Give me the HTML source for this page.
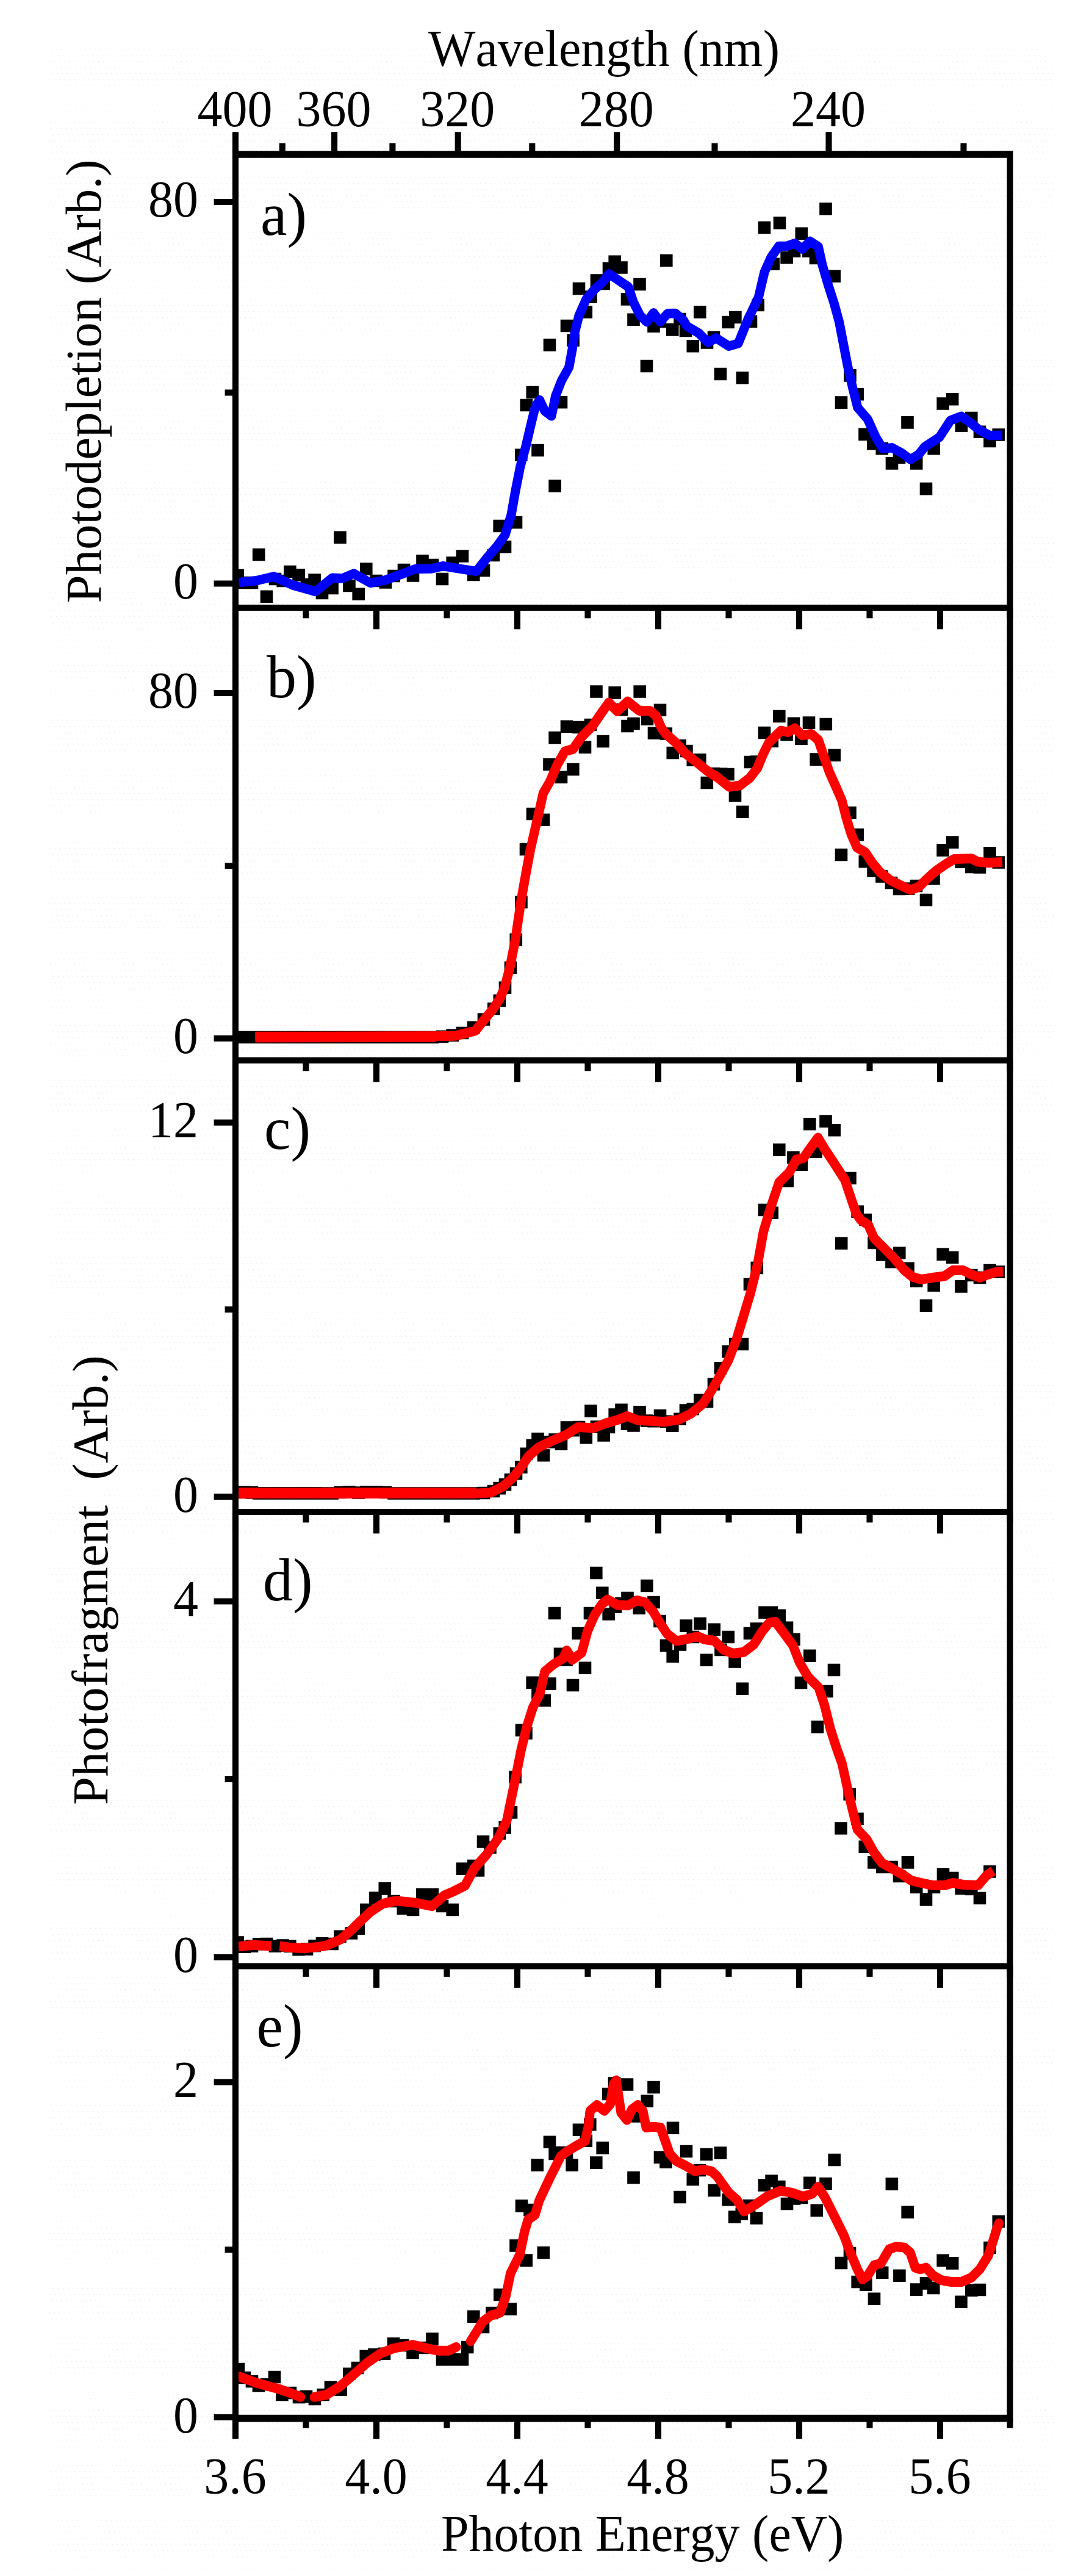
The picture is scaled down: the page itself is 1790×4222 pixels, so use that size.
<!DOCTYPE html>
<html lang="en"><head><meta charset="utf-8"><title>Photodepletion and photofragment spectra</title>
<style>html,body{margin:0;padding:0;background:#fff}svg{display:block}text{font-family:"Liberation Serif","Times New Roman",serif;font-size:82px;fill:#000;font-kerning:none}</style>
</head><body>
<svg width="1790" height="4222" viewBox="0 0 1790 4222">
<defs><pattern id="dots" width="8" height="10" patternUnits="userSpaceOnUse" patternTransform="skewX(14)"><rect x="0" y="0" width="1.2" height="1.2" fill="#e9e9e9"/></pattern>
<clipPath id="clipall"><rect x="382.0" y="253.0" width="1277.6" height="3710.6"/></clipPath>
</defs>
<rect x="0" y="0" width="1790" height="4222" fill="#fff"/>
<rect x="81" y="54" width="1646" height="4164" fill="url(#dots)"/>
<g id="data" clip-path="url(#clipall)">
<g id="panel-a">
<path d="M379.3 932.7h20.6v20.6h-20.6z M390.7 944.7h20.6v20.6h-20.6z M402.7 944.7h20.6v20.6h-20.6z M413.9 898.7h20.6v20.6h-20.6z M426.7 967.4h20.6v20.6h-20.6z M440.7 938.7h20.6v20.6h-20.6z M453.4 941.7h20.6v20.6h-20.6z M465.1 926.7h20.6v20.6h-20.6z M479.3 932.2h20.6v20.6h-20.6z M492.7 947.7h20.6v20.6h-20.6z M505.3 940.2h20.6v20.6h-20.6z M517.7 961.7h20.6v20.6h-20.6z M534.3 953.7h20.6v20.6h-20.6z M547.2 870.5h20.6v20.6h-20.6z M562.2 949.7h20.6v20.6h-20.6z M577.4 963.5h20.6v20.6h-20.6z M590.0 922.2h20.6v20.6h-20.6z M606.4 941.7h20.6v20.6h-20.6z M621.7 944.2h20.6v20.6h-20.6z M635.3 933.7h20.6v20.6h-20.6z M651.7 923.7h20.6v20.6h-20.6z M666.7 933.2h20.6v20.6h-20.6z M682.2 909.0h20.6v20.6h-20.6z M698.7 915.7h20.6v20.6h-20.6z M714.7 938.7h20.6v20.6h-20.6z M731.4 912.2h20.6v20.6h-20.6z M747.7 901.2h20.6v20.6h-20.6z M766.0 931.7h20.6v20.6h-20.6z M782.7 924.7h20.6v20.6h-20.6z M798.7 899.7h20.6v20.6h-20.6z M808.4 851.7h20.6v20.6h-20.6z M817.7 886.0h20.6v20.6h-20.6z M835.7 846.0h20.6v20.6h-20.6z M844.0 735.5h20.6v20.6h-20.6z M852.5 653.7h20.6v20.6h-20.6z M862.5 632.7h20.6v20.6h-20.6z M871.2 727.7h20.6v20.6h-20.6z M890.7 555.1h20.6v20.6h-20.6z M899.3 786.2h20.6v20.6h-20.6z M909.7 649.0h20.6v20.6h-20.6z M918.7 523.7h20.6v20.6h-20.6z M929.3 547.4h20.6v20.6h-20.6z M938.7 462.7h20.6v20.6h-20.6z M950.5 501.2h20.6v20.6h-20.6z M958.2 476.2h20.6v20.6h-20.6z M967.7 449.3h20.6v20.6h-20.6z M979.3 454.7h20.6v20.6h-20.6z M987.7 429.7h20.6v20.6h-20.6z M997.4 418.5h20.6v20.6h-20.6z M1008.2 428.2h20.6v20.6h-20.6z M1017.7 480.1h20.6v20.6h-20.6z M1028.2 513.5h20.6v20.6h-20.6z M1038.2 455.7h20.6v20.6h-20.6z M1049.7 589.7h20.6v20.6h-20.6z M1061.2 524.3h20.6v20.6h-20.6z M1071.7 516.7h20.6v20.6h-20.6z M1082.0 416.7h20.6v20.6h-20.6z M1092.0 530.1h20.6v20.6h-20.6z M1104.3 512.7h20.6v20.6h-20.6z M1113.7 531.7h20.6v20.6h-20.6z M1125.5 557.0h20.6v20.6h-20.6z M1137.0 501.2h20.6v20.6h-20.6z M1148.7 551.2h20.6v20.6h-20.6z M1159.7 542.7h20.6v20.6h-20.6z M1170.7 602.7h20.6v20.6h-20.6z M1183.4 517.7h20.6v20.6h-20.6z M1195.1 509.7h20.6v20.6h-20.6z M1206.7 608.9h20.6v20.6h-20.6z M1220.7 516.7h20.6v20.6h-20.6z M1232.4 489.7h20.6v20.6h-20.6z M1242.7 362.7h20.6v20.6h-20.6z M1257.4 422.4h20.6v20.6h-20.6z M1267.7 355.1h20.6v20.6h-20.6z M1279.3 412.0h20.6v20.6h-20.6z M1291.7 401.2h20.6v20.6h-20.6z M1303.5 372.4h20.6v20.6h-20.6z M1315.1 401.2h20.6v20.6h-20.6z M1326.7 412.7h20.6v20.6h-20.6z M1343.2 332.0h20.6v20.6h-20.6z M1357.4 442.4h20.6v20.6h-20.6z M1368.7 649.3h20.6v20.6h-20.6z M1383.2 605.1h20.6v20.6h-20.6z M1395.4 636.0h20.6v20.6h-20.6z M1407.2 701.7h20.6v20.6h-20.6z M1421.0 717.0h20.6v20.6h-20.6z M1435.5 724.9h20.6v20.6h-20.6z M1451.7 749.1h20.6v20.6h-20.6z M1463.7 739.3h20.6v20.6h-20.6z M1477.2 682.1h20.6v20.6h-20.6z M1491.9 749.1h20.6v20.6h-20.6z M1507.7 790.8h20.6v20.6h-20.6z M1520.4 724.9h20.6v20.6h-20.6z M1535.4 651.2h20.6v20.6h-20.6z M1550.9 644.0h20.6v20.6h-20.6z M1565.7 687.4h20.6v20.6h-20.6z M1582.0 674.7h20.6v20.6h-20.6z M1595.7 697.5h20.6v20.6h-20.6z M1612.2 712.7h20.6v20.6h-20.6z M1626.5 702.2h20.6v20.6h-20.6z" fill="#000"/>
<g transform="scale(0.98,1)">
<polyline points="399.6,954.6 427.2,951.9 458.2,945.0 489.8,959.0 527.4,969.5 555.7,947.3 572.4,948.0 591.8,940.0 619.4,955.4 643.6,951.0 671.2,941.3 694.0,932.6 721.5,932.1 740.8,927.7 764.3,931.5 796.9,936.3 814.7,914.1 831.5,895.0 844.9,876.8 855.1,843.8 862.0,805.4 870.4,764.0 878.9,734.0 888.8,692.7 895.7,665.3 902.7,655.7 911.2,673.5 922.4,681.8 929.3,648.8 939.2,624.0 951.7,602.0 957.3,572.0 961.5,544.4 968.5,517.0 980.4,490.7 994.0,474.7 1006.6,463.8 1018.8,448.9 1034.2,459.2 1051.0,470.2 1059.4,495.0 1070.6,517.0 1082.1,527.8 1093.1,512.8 1104.1,527.4 1117.0,513.7 1129.6,513.5 1143.3,525.0 1149.0,534.6 1168.8,546.0 1184.5,561.5 1197.4,553.8 1219.0,567.3 1234.8,562.9 1250.8,524.0 1268.7,487.4 1278.6,446.1 1289.6,421.9 1302.7,403.5 1315.4,403.5 1329.4,398.7 1342.2,408.2 1354.7,395.4 1368.7,404.2 1375.5,434.4 1385.4,467.4 1395.3,497.6 1403.7,527.8 1410.7,563.5 1417.7,599.2 1426.1,635.0 1434.5,668.0 1451.3,687.0 1465.3,717.4 1476.5,735.2 1491.8,733.8 1507.4,742.0 1522.9,753.0 1536.7,744.8 1546.6,732.5 1571.4,716.6 1589.8,689.0 1608.0,682.3 1622.0,691.9 1637.4,704.2 1655.6,713.8 1676.5,713.3" fill="none" stroke="#0000ff" stroke-width="15.4" stroke-linejoin="round" stroke-linecap="butt"/>
</g>
</g>
<g id="panel-b">
<path d="M379.3 1689.7h20.6v20.6h-20.6z M390.7 1689.7h20.6v20.6h-20.6z M402.7 1689.7h20.6v20.6h-20.6z M413.9 1689.7h20.6v20.6h-20.6z M426.7 1689.7h20.6v20.6h-20.6z M440.7 1689.7h20.6v20.6h-20.6z M453.4 1689.7h20.6v20.6h-20.6z M465.1 1689.7h20.6v20.6h-20.6z M479.3 1689.7h20.6v20.6h-20.6z M492.7 1689.7h20.6v20.6h-20.6z M505.3 1689.7h20.6v20.6h-20.6z M517.7 1689.7h20.6v20.6h-20.6z M534.3 1689.7h20.6v20.6h-20.6z M547.2 1689.7h20.6v20.6h-20.6z M562.2 1689.7h20.6v20.6h-20.6z M577.4 1689.7h20.6v20.6h-20.6z M590.0 1689.7h20.6v20.6h-20.6z M606.4 1689.7h20.6v20.6h-20.6z M621.7 1689.7h20.6v20.6h-20.6z M635.3 1689.7h20.6v20.6h-20.6z M651.7 1689.7h20.6v20.6h-20.6z M666.7 1689.7h20.6v20.6h-20.6z M682.2 1689.7h20.6v20.6h-20.6z M698.7 1689.7h20.6v20.6h-20.6z M714.7 1688.7h20.6v20.6h-20.6z M731.4 1686.7h20.6v20.6h-20.6z M747.7 1682.7h20.6v20.6h-20.6z M766.0 1673.7h20.6v20.6h-20.6z M782.7 1660.5h20.6v20.6h-20.6z M799.0 1643.2h20.6v20.6h-20.6z M808.6 1629.7h20.6v20.6h-20.6z M817.7 1608.5h20.6v20.6h-20.6z M826.7 1575.7h20.6v20.6h-20.6z M835.5 1529.7h20.6v20.6h-20.6z M844.2 1468.2h20.6v20.6h-20.6z M851.7 1381.7h20.6v20.6h-20.6z M862.7 1323.7h20.6v20.6h-20.6z M880.7 1333.5h20.6v20.6h-20.6z M890.2 1242.4h20.6v20.6h-20.6z M899.3 1198.7h20.6v20.6h-20.6z M909.7 1263.5h20.6v20.6h-20.6z M918.7 1180.5h20.6v20.6h-20.6z M929.0 1250.7h20.6v20.6h-20.6z M938.2 1181.7h20.6v20.6h-20.6z M948.7 1214.3h20.6v20.6h-20.6z M957.7 1177.7h20.6v20.6h-20.6z M967.2 1123.2h20.6v20.6h-20.6z M978.2 1204.7h20.6v20.6h-20.6z M997.4 1125.1h20.6v20.6h-20.6z M1008.7 1152.7h20.6v20.6h-20.6z M1018.2 1179.7h20.6v20.6h-20.6z M1028.2 1175.7h20.6v20.6h-20.6z M1038.4 1123.2h20.6v20.6h-20.6z M1050.7 1168.2h20.6v20.6h-20.6z M1061.7 1191.2h20.6v20.6h-20.6z M1071.7 1153.5h20.6v20.6h-20.6z M1081.5 1192.2h20.6v20.6h-20.6z M1092.5 1223.7h20.6v20.6h-20.6z M1104.3 1211.7h20.6v20.6h-20.6z M1115.1 1220.7h20.6v20.6h-20.6z M1125.5 1235.1h20.6v20.6h-20.6z M1137.0 1235.1h20.6v20.6h-20.6z M1148.5 1272.7h20.6v20.6h-20.6z M1159.7 1257.7h20.6v20.6h-20.6z M1171.7 1258.2h20.6v20.6h-20.6z M1183.2 1258.7h20.6v20.6h-20.6z M1194.7 1293.5h20.6v20.6h-20.6z M1207.0 1320.5h20.6v20.6h-20.6z M1219.7 1238.7h20.6v20.6h-20.6z M1229.7 1238.2h20.6v20.6h-20.6z M1242.7 1190.7h20.6v20.6h-20.6z M1255.5 1204.3h20.6v20.6h-20.6z M1267.0 1163.7h20.6v20.6h-20.6z M1279.3 1193.7h20.6v20.6h-20.6z M1290.7 1175.5h20.6v20.6h-20.6z M1303.2 1200.5h20.6v20.6h-20.6z M1315.7 1174.3h20.6v20.6h-20.6z M1327.4 1234.3h20.6v20.6h-20.6z M1343.5 1176.7h20.6v20.6h-20.6z M1357.4 1227.4h20.6v20.6h-20.6z M1368.7 1390.7h20.6v20.6h-20.6z M1383.2 1321.7h20.6v20.6h-20.6z M1395.4 1357.7h20.6v20.6h-20.6z M1407.5 1401.7h20.6v20.6h-20.6z M1421.3 1416.7h20.6v20.6h-20.6z M1435.1 1426.2h20.6v20.6h-20.6z M1450.7 1436.7h20.6v20.6h-20.6z M1463.7 1446.7h20.6v20.6h-20.6z M1478.7 1446.3h20.6v20.6h-20.6z M1491.7 1441.7h20.6v20.6h-20.6z M1507.7 1464.7h20.6v20.6h-20.6z M1520.2 1429.3h20.6v20.6h-20.6z M1535.3 1383.1h20.6v20.6h-20.6z M1551.0 1370.2h20.6v20.6h-20.6z M1565.5 1402.3h20.6v20.6h-20.6z M1582.0 1410.7h20.6v20.6h-20.6z M1595.7 1411.1h20.6v20.6h-20.6z M1612.2 1388.1h20.6v20.6h-20.6z M1626.5 1403.2h20.6v20.6h-20.6z" fill="#000"/>
<g transform="scale(0.96,1)">
<polyline points="435.9,1699.6 729.2,1698.6 777.4,1697.8 811.9,1689.2 827.1,1671.0 841.4,1654.4 852.8,1638.0 861.2,1620.0 870.3,1587.0 879.8,1541.0 889.6,1477.0 897.9,1432.0 905.5,1393.0 918.2,1340.0 927.6,1300.0 939.5,1280.0 951.4,1253.4 964.6,1231.5 978.4,1227.8 992.9,1208.1 1012.8,1188.7 1029.0,1165.7 1039.6,1151.5 1053.7,1165.7 1071.7,1149.6 1091.7,1165.0 1109.8,1165.0 1119.8,1172.7 1129.8,1193.8 1137.0,1203.0 1153.1,1216.5 1169.1,1233.8 1189.1,1249.0 1209.2,1264.6 1225.0,1274.0 1245.2,1289.6 1263.4,1287.4 1280.2,1275.0 1293.1,1259.0 1303.3,1235.5 1313.0,1217.0 1324.2,1206.2 1333.7,1197.5 1345.4,1200.0 1357.3,1193.5 1369.4,1205.0 1385.4,1203.0 1397.4,1213.0 1406.2,1238.0 1416.1,1265.4 1427.6,1290.0 1437.5,1312.0 1444.8,1339.6 1453.4,1367.0 1463.3,1389.0 1477.6,1397.0 1489.1,1413.7 1503.1,1430.0 1520.3,1442.6 1537.5,1450.8 1554.7,1458.5 1568.8,1453.6 1583.3,1440.0 1597.9,1427.5 1614.6,1416.5 1629.2,1408.0 1658.6,1407.0 1670.1,1412.6 1687.3,1414.0 1711.5,1413.0" fill="none" stroke="#ff0000" stroke-width="16" stroke-linejoin="round" stroke-linecap="butt"/>
</g>
<polyline points="418.5,1699.6 715.0,1699.2" fill="none" stroke="#ff0000" stroke-width="17.7"/>
</g>
<g id="panel-c">
<path d="M379.3 2435.6h20.6v20.6h-20.6z M390.7 2435.6h20.6v20.6h-20.6z M402.7 2436.1h20.6v20.6h-20.6z M413.9 2437.1h20.6v20.6h-20.6z M426.7 2437.1h20.6v20.6h-20.6z M440.7 2437.1h20.6v20.6h-20.6z M453.4 2437.1h20.6v20.6h-20.6z M465.1 2437.1h20.6v20.6h-20.6z M479.3 2437.1h20.6v20.6h-20.6z M492.7 2437.1h20.6v20.6h-20.6z M505.3 2437.1h20.6v20.6h-20.6z M517.7 2437.2h20.6v20.6h-20.6z M534.3 2437.2h20.6v20.6h-20.6z M547.2 2435.7h20.6v20.6h-20.6z M562.2 2435.2h20.6v20.6h-20.6z M577.4 2436.2h20.6v20.6h-20.6z M590.0 2435.2h20.6v20.6h-20.6z M606.4 2435.2h20.6v20.6h-20.6z M621.7 2435.7h20.6v20.6h-20.6z M635.3 2437.2h20.6v20.6h-20.6z M651.7 2437.2h20.6v20.6h-20.6z M666.7 2437.2h20.6v20.6h-20.6z M682.2 2437.2h20.6v20.6h-20.6z M698.7 2437.2h20.6v20.6h-20.6z M714.7 2437.2h20.6v20.6h-20.6z M731.4 2437.2h20.6v20.6h-20.6z M747.7 2437.2h20.6v20.6h-20.6z M766.0 2437.2h20.6v20.6h-20.6z M782.7 2436.7h20.6v20.6h-20.6z M798.7 2433.7h20.6v20.6h-20.6z M808.4 2428.8h20.6v20.6h-20.6z M817.7 2422.9h20.6v20.6h-20.6z M826.7 2414.9h20.6v20.6h-20.6z M835.7 2404.9h20.6v20.6h-20.6z M844.0 2394.3h20.6v20.6h-20.6z M852.5 2372.6h20.6v20.6h-20.6z M862.5 2358.8h20.6v20.6h-20.6z M871.2 2347.9h20.6v20.6h-20.6z M880.7 2374.9h20.6v20.6h-20.6z M890.7 2353.1h20.6v20.6h-20.6z M899.3 2349.2h20.6v20.6h-20.6z M909.7 2356.3h20.6v20.6h-20.6z M918.7 2329.2h20.6v20.6h-20.6z M929.3 2333.9h20.6v20.6h-20.6z M938.7 2328.7h20.6v20.6h-20.6z M950.5 2346.0h20.6v20.6h-20.6z M958.2 2302.3h20.6v20.6h-20.6z M967.7 2328.2h20.6v20.6h-20.6z M979.3 2342.2h20.6v20.6h-20.6z M987.7 2328.7h20.6v20.6h-20.6z M997.4 2308.2h20.6v20.6h-20.6z M1008.2 2300.4h20.6v20.6h-20.6z M1017.7 2323.4h20.6v20.6h-20.6z M1028.2 2326.2h20.6v20.6h-20.6z M1038.2 2304.1h20.6v20.6h-20.6z M1049.7 2318.2h20.6v20.6h-20.6z M1061.2 2318.9h20.6v20.6h-20.6z M1071.7 2310.0h20.6v20.6h-20.6z M1082.0 2319.4h20.6v20.6h-20.6z M1092.0 2326.5h20.6v20.6h-20.6z M1104.3 2315.5h20.6v20.6h-20.6z M1113.7 2301.2h20.6v20.6h-20.6z M1125.5 2298.9h20.6v20.6h-20.6z M1137.0 2284.5h20.6v20.6h-20.6z M1148.7 2286.9h20.6v20.6h-20.6z M1159.7 2258.3h20.6v20.6h-20.6z M1170.7 2231.9h20.6v20.6h-20.6z M1183.4 2204.9h20.6v20.6h-20.6z M1195.1 2192.7h20.6v20.6h-20.6z M1206.7 2192.7h20.6v20.6h-20.6z M1218.7 2094.7h20.6v20.6h-20.6z M1230.5 2067.7h20.6v20.6h-20.6z M1242.7 1972.7h20.6v20.6h-20.6z M1255.5 1977.4h20.6v20.6h-20.6z M1267.0 1874.3h20.6v20.6h-20.6z M1280.5 1925.5h20.6v20.6h-20.6z M1290.1 1887.0h20.6v20.6h-20.6z M1303.5 1898.5h20.6v20.6h-20.6z M1317.0 1832.0h20.6v20.6h-20.6z M1327.4 1877.4h20.6v20.6h-20.6z M1343.2 1827.4h20.6v20.6h-20.6z M1357.4 1842.0h20.6v20.6h-20.6z M1368.9 2027.4h20.6v20.6h-20.6z M1383.2 1920.7h20.6v20.6h-20.6z M1395.4 1975.4h20.6v20.6h-20.6z M1408.5 1989.0h20.6v20.6h-20.6z M1422.3 2026.7h20.6v20.6h-20.6z M1435.9 2046.1h20.6v20.6h-20.6z M1451.2 2057.9h20.6v20.6h-20.6z M1464.0 2043.5h20.6v20.6h-20.6z M1478.3 2068.7h20.6v20.6h-20.6z M1491.9 2089.1h20.6v20.6h-20.6z M1507.7 2129.5h20.6v20.6h-20.6z M1520.4 2096.5h20.6v20.6h-20.6z M1535.4 2045.6h20.6v20.6h-20.6z M1550.9 2050.7h20.6v20.6h-20.6z M1565.2 2098.1h20.6v20.6h-20.6z M1582.0 2079.7h20.6v20.6h-20.6z M1595.7 2083.7h20.6v20.6h-20.6z M1612.2 2071.7h20.6v20.6h-20.6z M1626.5 2074.3h20.6v20.6h-20.6z" fill="#000"/>
<g transform="scale(0.96,1)">
<polyline points="407.3,2447.4 817.7,2447.5 838.1,2446.2 859.0,2436.2 875.8,2421.9 890.0,2404.5 901.9,2387.4 919.1,2372.5 942.4,2361.5 966.5,2351.8 987.3,2338.9 1013.2,2340.6 1034.3,2332.8 1053.5,2327.5 1070.8,2321.0 1089.0,2327.7 1109.0,2328.8 1133.2,2330.3 1158.6,2326.9 1179.5,2317.0 1199.9,2301.0 1215.6,2278.0 1229.2,2255.0 1243.5,2230.0 1257.5,2195.4 1269.6,2157.0 1281.6,2118.5 1293.5,2072.3 1303.6,2018.5 1315.6,1980.0 1330.4,1937.7 1348.3,1920.7 1359.7,1900.3 1371.4,1898.6 1385.9,1878.8 1396.7,1864.6 1408.6,1883.8 1424.7,1907.0 1442.7,1933.8 1454.7,1968.5 1462.5,1990.0 1469.8,1999.5 1482.7,2007.7 1492.7,2029.7 1509.9,2046.0 1527.1,2062.6 1544.2,2081.9 1558.3,2092.9 1572.9,2097.0 1592.7,2094.0 1612.9,2091.5 1627.1,2082.0 1644.4,2082.0 1658.6,2088.7 1672.9,2094.0 1687.3,2088.7 1701.6,2084.6 1712.5,2084.6" fill="none" stroke="#ff0000" stroke-width="16" stroke-linejoin="round" stroke-linecap="butt"/>
</g>
<polyline points="391.0,2447.2 780.0,2447.2" fill="none" stroke="#ff0000" stroke-width="17.7"/>
</g>
<g id="panel-d">
<path d="M379.3 3173.2h20.6v20.6h-20.6z M390.7 3180.4h20.6v20.6h-20.6z M402.7 3179.5h20.6v20.6h-20.6z M413.9 3176.0h20.6v20.6h-20.6z M426.7 3175.8h20.6v20.6h-20.6z M440.7 3179.4h20.6v20.6h-20.6z M453.4 3178.2h20.6v20.6h-20.6z M465.1 3179.6h20.6v20.6h-20.6z M479.3 3184.9h20.6v20.6h-20.6z M492.7 3184.3h20.6v20.6h-20.6z M505.3 3178.9h20.6v20.6h-20.6z M517.7 3175.0h20.6v20.6h-20.6z M534.3 3175.7h20.6v20.6h-20.6z M547.2 3163.4h20.6v20.6h-20.6z M565.7 3158.2h20.6v20.6h-20.6z M577.4 3150.5h20.6v20.6h-20.6z M590.1 3119.7h20.6v20.6h-20.6z M605.1 3100.5h20.6v20.6h-20.6z M620.5 3085.1h20.6v20.6h-20.6z M635.3 3105.7h20.6v20.6h-20.6z M650.5 3117.7h20.6v20.6h-20.6z M666.7 3119.7h20.6v20.6h-20.6z M682.0 3094.7h20.6v20.6h-20.6z M698.5 3094.7h20.6v20.6h-20.6z M714.7 3113.7h20.6v20.6h-20.6z M731.4 3119.7h20.6v20.6h-20.6z M747.7 3052.4h20.6v20.6h-20.6z M766.0 3047.7h20.6v20.6h-20.6z M773.7 3055.1h20.6v20.6h-20.6z M781.7 3008.2h20.6v20.6h-20.6z M793.2 3017.7h20.6v20.6h-20.6z M808.5 2994.7h20.6v20.6h-20.6z M817.4 2985.1h20.6v20.6h-20.6z M827.7 2960.1h20.6v20.6h-20.6z M834.3 2902.4h20.6v20.6h-20.6z M844.7 2825.5h20.6v20.6h-20.6z M852.2 2830.5h20.6v20.6h-20.6z M862.4 2747.4h20.6v20.6h-20.6z M871.2 2764.7h20.6v20.6h-20.6z M882.4 2776.7h20.6v20.6h-20.6z M891.2 2749.3h20.6v20.6h-20.6z M898.7 2633.7h20.6v20.6h-20.6z M907.7 2700.5h20.6v20.6h-20.6z M918.2 2710.1h20.6v20.6h-20.6z M928.7 2751.7h20.6v20.6h-20.6z M937.4 2666.7h20.6v20.6h-20.6z M948.7 2723.5h20.6v20.6h-20.6z M956.7 2633.7h20.6v20.6h-20.6z M967.0 2567.7h20.6v20.6h-20.6z M977.0 2600.5h20.6v20.6h-20.6z M987.4 2635.1h20.6v20.6h-20.6z M998.7 2623.5h20.6v20.6h-20.6z M1008.2 2617.7h20.6v20.6h-20.6z M1018.2 2608.7h20.6v20.6h-20.6z M1028.2 2615.7h20.6v20.6h-20.6z M1037.4 2625.5h20.6v20.6h-20.6z M1050.1 2588.7h20.6v20.6h-20.6z M1061.2 2615.7h20.6v20.6h-20.6z M1071.2 2646.7h20.6v20.6h-20.6z M1081.7 2686.7h20.6v20.6h-20.6z M1092.4 2704.3h20.6v20.6h-20.6z M1104.7 2685.1h20.6v20.6h-20.6z M1114.3 2654.3h20.6v20.6h-20.6z M1125.5 2672.7h20.6v20.6h-20.6z M1137.4 2650.7h20.6v20.6h-20.6z M1147.7 2710.5h20.6v20.6h-20.6z M1160.5 2660.5h20.6v20.6h-20.6z M1171.2 2693.7h20.6v20.6h-20.6z M1183.5 2672.7h20.6v20.6h-20.6z M1194.3 2713.2h20.6v20.6h-20.6z M1206.7 2757.4h20.6v20.6h-20.6z M1218.7 2666.7h20.6v20.6h-20.6z M1229.7 2659.3h20.6v20.6h-20.6z M1243.2 2632.4h20.6v20.6h-20.6z M1254.7 2632.4h20.6v20.6h-20.6z M1267.4 2637.4h20.6v20.6h-20.6z M1279.7 2657.4h20.6v20.6h-20.6z M1291.2 2676.7h20.6v20.6h-20.6z M1302.7 2747.7h20.6v20.6h-20.6z M1317.0 2703.5h20.6v20.6h-20.6z M1329.7 2820.1h20.6v20.6h-20.6z M1345.1 2761.7h20.6v20.6h-20.6z M1356.7 2726.7h20.6v20.6h-20.6z M1368.2 2986.2h20.6v20.6h-20.6z M1382.4 2930.5h20.6v20.6h-20.6z M1395.2 2970.7h20.6v20.6h-20.6z M1407.5 3016.5h20.6v20.6h-20.6z M1422.1 3042.1h20.6v20.6h-20.6z M1436.0 3049.7h20.6v20.6h-20.6z M1451.2 3049.7h20.6v20.6h-20.6z M1463.7 3064.7h20.6v20.6h-20.6z M1477.7 3042.1h20.6v20.6h-20.6z M1491.9 3082.7h20.6v20.6h-20.6z M1507.7 3103.1h20.6v20.6h-20.6z M1520.7 3082.7h20.6v20.6h-20.6z M1535.7 3062.0h20.6v20.6h-20.6z M1551.0 3067.7h20.6v20.6h-20.6z M1565.5 3085.0h20.6v20.6h-20.6z M1582.0 3085.7h20.6v20.6h-20.6z M1595.7 3100.7h20.6v20.6h-20.6z M1612.2 3057.2h20.6v20.6h-20.6z" fill="#000"/>
<g transform="scale(0.96,1)">
<polyline points="407.2,3190.4 431.9,3187.7 463.1,3189.6" fill="none" stroke="#ff0000" stroke-width="16" stroke-linejoin="round" stroke-linecap="butt"/>
<polyline points="477.4,3189.8 495.8,3192.0 519.9,3193.3 544.7,3190.6 557.8,3188.5 581.5,3178.6 599.1,3164.1 616.6,3147.7 633.2,3132.9 653.3,3120.2 676.0,3115.4 708.3,3118.5 737.8,3124.2 758.8,3106.4 774.8,3099.8 793.9,3090.5 810.5,3061.2 830.3,3040.3 850.5,3013.2 865.4,2983.8 873.6,2945.4 881.8,2907.0 889.7,2868.5 899.5,2830.0 909.7,2799.0 921.8,2776.0 930.3,2739.6 946.1,2727.1 961.9,2717.9 967.7,2705.0 977.1,2720.4 993.2,2708.7 1003.1,2673.7 1015.1,2647.4 1028.0,2629.0 1037.3,2621.5 1055.2,2630.8 1072.3,2631.2 1087.4,2623.1 1101.4,2626.0 1115.4,2641.5 1127.4,2660.8 1139.4,2678.0 1155.2,2689.6 1172.0,2686.4 1191.5,2682.0 1203.5,2687.0 1219.6,2689.0 1235.4,2704.0 1251.6,2710.0 1269.9,2707.7 1286.9,2695.5 1301.2,2674.0 1313.5,2659.7 1323.8,2658.0 1337.5,2675.4 1353.8,2696.5 1365.6,2725.4 1379.8,2748.5 1397.9,2765.8 1407.8,2794.6 1417.7,2833.0 1427.9,2863.8 1437.9,2890.8 1445.8,2925.4 1454.0,2960.0 1464.0,2998.5 1479.8,3014.5 1492.7,3036.5 1505.5,3053.0 1524.0,3062.9 1541.4,3072.5 1555.6,3082.0 1572.9,3086.0 1592.7,3090.0 1612.9,3090.0 1627.1,3086.0 1644.4,3089.0 1670.1,3090.0 1684.4,3074.0 1695.8,3066.5" fill="none" stroke="#ff0000" stroke-width="16" stroke-linejoin="round" stroke-linecap="butt"/>
</g>
</g>
<g id="panel-e">
<path d="M380.7 3872.7h20.6v20.6h-20.6z M390.7 3886.7h20.6v20.6h-20.6z M402.7 3892.7h20.6v20.6h-20.6z M413.7 3899.7h20.6v20.6h-20.6z M426.7 3897.7h20.6v20.6h-20.6z M439.7 3885.7h20.6v20.6h-20.6z M452.1 3914.7h20.6v20.6h-20.6z M465.7 3911.7h20.6v20.6h-20.6z M479.7 3918.7h20.6v20.6h-20.6z M491.7 3917.4h20.6v20.6h-20.6z M505.7 3921.7h20.6v20.6h-20.6z M519.4 3914.7h20.6v20.6h-20.6z M531.7 3902.3h20.6v20.6h-20.6z M548.3 3906.5h20.6v20.6h-20.6z M562.0 3880.4h20.6v20.6h-20.6z M575.7 3870.7h20.6v20.6h-20.6z M589.5 3851.5h20.6v20.6h-20.6z M603.2 3848.7h20.6v20.6h-20.6z M619.7 3847.4h20.6v20.6h-20.6z M634.7 3830.9h20.6v20.6h-20.6z M649.9 3833.7h20.6v20.6h-20.6z M666.2 3845.7h20.6v20.6h-20.6z M682.2 3837.7h20.6v20.6h-20.6z M698.2 3823.1h20.6v20.6h-20.6z M714.7 3857.0h20.6v20.6h-20.6z M731.2 3857.0h20.6v20.6h-20.6z M747.7 3857.0h20.6v20.6h-20.6z M755.9 3836.7h20.6v20.6h-20.6z M766.0 3786.5h20.6v20.6h-20.6z M781.7 3803.7h20.6v20.6h-20.6z M796.2 3780.7h20.6v20.6h-20.6z M809.0 3750.7h20.6v20.6h-20.6z M826.4 3774.2h20.6v20.6h-20.6z M835.2 3670.2h20.6v20.6h-20.6z M844.7 3605.1h20.6v20.6h-20.6z M852.4 3694.3h20.6v20.6h-20.6z M858.2 3611.7h20.6v20.6h-20.6z M870.5 3538.2h20.6v20.6h-20.6z M880.5 3681.7h20.6v20.6h-20.6z M890.7 3500.5h20.6v20.6h-20.6z M899.3 3519.7h20.6v20.6h-20.6z M910.1 3517.7h20.6v20.6h-20.6z M918.7 3517.7h20.6v20.6h-20.6z M927.4 3538.2h20.6v20.6h-20.6z M938.7 3480.5h20.6v20.6h-20.6z M950.5 3498.5h20.6v20.6h-20.6z M957.0 3471.7h20.6v20.6h-20.6z M967.0 3534.3h20.6v20.6h-20.6z M977.4 3510.1h20.6v20.6h-20.6z M987.0 3421.7h20.6v20.6h-20.6z M996.7 3404.3h20.6v20.6h-20.6z M1017.7 3406.2h20.6v20.6h-20.6z M1028.2 3558.7h20.6v20.6h-20.6z M1035.1 3458.2h20.6v20.6h-20.6z M1050.5 3433.2h20.6v20.6h-20.6z M1061.2 3410.7h20.6v20.6h-20.6z M1071.7 3525.5h20.6v20.6h-20.6z M1081.2 3533.2h20.6v20.6h-20.6z M1092.7 3477.4h20.6v20.6h-20.6z M1104.3 3590.7h20.6v20.6h-20.6z M1114.7 3515.7h20.6v20.6h-20.6z M1125.5 3561.7h20.6v20.6h-20.6z M1136.7 3546.7h20.6v20.6h-20.6z M1147.7 3520.7h20.6v20.6h-20.6z M1160.5 3579.7h20.6v20.6h-20.6z M1170.7 3518.3h20.6v20.6h-20.6z M1183.4 3594.9h20.6v20.6h-20.6z M1193.9 3623.2h20.6v20.6h-20.6z M1205.5 3618.2h20.6v20.6h-20.6z M1217.7 3604.7h20.6v20.6h-20.6z M1229.7 3625.1h20.6v20.6h-20.6z M1242.7 3571.2h20.6v20.6h-20.6z M1254.3 3564.3h20.6v20.6h-20.6z M1267.0 3573.7h20.6v20.6h-20.6z M1279.7 3601.7h20.6v20.6h-20.6z M1291.7 3593.2h20.6v20.6h-20.6z M1303.7 3591.7h20.6v20.6h-20.6z M1317.0 3567.4h20.6v20.6h-20.6z M1328.5 3612.4h20.6v20.6h-20.6z M1343.2 3568.7h20.6v20.6h-20.6z M1357.4 3529.7h20.6v20.6h-20.6z M1368.7 3698.7h20.6v20.6h-20.6z M1382.7 3682.7h20.6v20.6h-20.6z M1395.4 3729.7h20.6v20.6h-20.6z M1409.1 3734.3h20.6v20.6h-20.6z M1422.7 3757.5h20.6v20.6h-20.6z M1435.9 3714.4h20.6v20.6h-20.6z M1451.6 3569.1h20.6v20.6h-20.6z M1464.1 3719.4h20.6v20.6h-20.6z M1477.4 3615.3h20.6v20.6h-20.6z M1491.9 3742.3h20.6v20.6h-20.6z M1507.7 3732.1h20.6v20.6h-20.6z M1520.0 3739.7h20.6v20.6h-20.6z M1535.4 3694.4h20.6v20.6h-20.6z M1550.9 3699.1h20.6v20.6h-20.6z M1565.2 3762.5h20.6v20.6h-20.6z M1582.0 3743.4h20.6v20.6h-20.6z M1595.7 3742.7h20.6v20.6h-20.6z M1612.2 3673.7h20.6v20.6h-20.6z M1626.5 3630.7h20.6v20.6h-20.6z" fill="#000"/>
<g transform="scale(0.96,1)">
<polyline points="407.3,3894.8 438.8,3905.8 476.0,3915.4 495.8,3922.0 513.1,3928.6" fill="none" stroke="#ff0000" stroke-width="16" stroke-linejoin="round" stroke-linecap="round"/>
<polyline points="536.8,3928.7 557.9,3924.8 581.6,3910.4 604.7,3891.2 627.5,3872.0 649.7,3857.4 671.0,3849.0 704.2,3843.0 728.3,3848.8 748.4,3852.7 765.8,3852.8 779.0,3846.8" fill="none" stroke="#ff0000" stroke-width="16" stroke-linejoin="round" stroke-linecap="round"/>
<polyline points="803.7,3837.2 824.5,3804.9 838.4,3795.0 853.7,3790.6 863.3,3764.6 871.7,3726.0 887.5,3695.4 895.8,3657.0 901.8,3637.7 913.5,3630.0 920.6,3607.0 937.5,3572.3 950.4,3547.6 957.5,3533.8 969.0,3525.6 983.3,3517.4 999.0,3509.0 1004.8,3484.4 1007.6,3459.7 1019.1,3450.0 1032.0,3459.7 1042.0,3448.7 1047.7,3415.7 1052.0,3409.5 1056.2,3435.0 1060.4,3462.4 1070.5,3474.8 1079.2,3457.0 1089.2,3450.0 1097.7,3459.7 1103.4,3487.0 1114.9,3485.8 1127.8,3487.0 1135.0,3506.4 1143.5,3529.7 1155.0,3542.0 1172.2,3550.3 1186.5,3558.6 1200.7,3555.8 1215.1,3558.6 1224.4,3567.0 1244.4,3593.8 1258.3,3605.4 1270.4,3624.6 1291.3,3612.3 1310.1,3599.6 1332.3,3590.6 1352.6,3593.8 1370.7,3600.3 1386.7,3595.6 1396.7,3584.0 1408.6,3601.5 1424.7,3632.3 1440.6,3663.0 1452.7,3693.8 1464.1,3719.3 1472.6,3735.8 1481.2,3730.3 1492.7,3712.5 1504.2,3709.7 1518.4,3686.4 1529.9,3682.3 1544.2,3683.6 1554.2,3691.9 1562.8,3716.6 1571.4,3719.3 1581.2,3716.6 1592.7,3729.0 1607.2,3737.2 1624.3,3740.0 1641.5,3740.0 1658.6,3733.0 1672.9,3719.3 1687.3,3697.4 1695.8,3672.6 1701.6,3654.0 1705.7,3644.0" fill="none" stroke="#ff0000" stroke-width="16" stroke-linejoin="round" stroke-linecap="round"/>
</g>
</g>
</g>
<g stroke="#000" stroke-width="10.1" fill="none" stroke-linecap="butt">
<line x1="386.0" y1="247.3" x2="386.0" y2="3969.1"/>
<line x1="1655.6" y1="247.3" x2="1655.6" y2="3969.1"/>
<line x1="386.0" y1="253.0" x2="1655.6" y2="253.0" stroke-width="11.4"/>
<line x1="386.0" y1="3963.6" x2="1655.6" y2="3963.6" stroke-width="11.8"/>
<line x1="386.0" y1="996.0" x2="1655.6" y2="996.0"/>
<line x1="386.0" y1="1738.0" x2="1655.6" y2="1738.0"/>
<line x1="386.0" y1="2478.0" x2="1655.6" y2="2478.0"/>
<line x1="386.0" y1="3222.5" x2="1655.6" y2="3222.5"/>
<line x1="386.0" y1="216.3" x2="386.0" y2="253.0"/>
<line x1="548.1" y1="216.3" x2="548.1" y2="253.0"/>
<line x1="750.7" y1="216.3" x2="750.7" y2="253.0"/>
<line x1="1011.2" y1="216.3" x2="1011.2" y2="253.0"/>
<line x1="1358.5" y1="216.3" x2="1358.5" y2="253.0"/>
<line x1="462.8" y1="234.6" x2="462.8" y2="253.0"/>
<line x1="643.4" y1="234.6" x2="643.4" y2="253.0"/>
<line x1="872.3" y1="234.6" x2="872.3" y2="253.0"/>
<line x1="1171.5" y1="234.6" x2="1171.5" y2="253.0"/>
<line x1="1579.5" y1="234.6" x2="1579.5" y2="253.0"/>
<line x1="386.0" y1="996.0" x2="386.0" y2="1031.3"/>
<line x1="501.5" y1="996.0" x2="501.5" y2="1013.3"/>
<line x1="617.0" y1="996.0" x2="617.0" y2="1031.3"/>
<line x1="732.5" y1="996.0" x2="732.5" y2="1013.3"/>
<line x1="848.0" y1="996.0" x2="848.0" y2="1031.3"/>
<line x1="963.5" y1="996.0" x2="963.5" y2="1013.3"/>
<line x1="1079.0" y1="996.0" x2="1079.0" y2="1031.3"/>
<line x1="1194.5" y1="996.0" x2="1194.5" y2="1013.3"/>
<line x1="1310.0" y1="996.0" x2="1310.0" y2="1031.3"/>
<line x1="1425.5" y1="996.0" x2="1425.5" y2="1013.3"/>
<line x1="1541.0" y1="996.0" x2="1541.0" y2="1031.3"/>
<line x1="1655.6" y1="996.0" x2="1655.6" y2="1013.3"/>
<line x1="386.0" y1="1738.0" x2="386.0" y2="1773.3"/>
<line x1="501.5" y1="1738.0" x2="501.5" y2="1755.3"/>
<line x1="617.0" y1="1738.0" x2="617.0" y2="1773.3"/>
<line x1="732.5" y1="1738.0" x2="732.5" y2="1755.3"/>
<line x1="848.0" y1="1738.0" x2="848.0" y2="1773.3"/>
<line x1="963.5" y1="1738.0" x2="963.5" y2="1755.3"/>
<line x1="1079.0" y1="1738.0" x2="1079.0" y2="1773.3"/>
<line x1="1194.5" y1="1738.0" x2="1194.5" y2="1755.3"/>
<line x1="1310.0" y1="1738.0" x2="1310.0" y2="1773.3"/>
<line x1="1425.5" y1="1738.0" x2="1425.5" y2="1755.3"/>
<line x1="1541.0" y1="1738.0" x2="1541.0" y2="1773.3"/>
<line x1="1655.6" y1="1738.0" x2="1655.6" y2="1755.3"/>
<line x1="386.0" y1="2478.0" x2="386.0" y2="2513.4"/>
<line x1="501.5" y1="2478.0" x2="501.5" y2="2495.4"/>
<line x1="617.0" y1="2478.0" x2="617.0" y2="2513.4"/>
<line x1="732.5" y1="2478.0" x2="732.5" y2="2495.4"/>
<line x1="848.0" y1="2478.0" x2="848.0" y2="2513.4"/>
<line x1="963.5" y1="2478.0" x2="963.5" y2="2495.4"/>
<line x1="1079.0" y1="2478.0" x2="1079.0" y2="2513.4"/>
<line x1="1194.5" y1="2478.0" x2="1194.5" y2="2495.4"/>
<line x1="1310.0" y1="2478.0" x2="1310.0" y2="2513.4"/>
<line x1="1425.5" y1="2478.0" x2="1425.5" y2="2495.4"/>
<line x1="1541.0" y1="2478.0" x2="1541.0" y2="2513.4"/>
<line x1="1655.6" y1="2478.0" x2="1655.6" y2="2495.4"/>
<line x1="386.0" y1="3222.5" x2="386.0" y2="3257.9"/>
<line x1="501.5" y1="3222.5" x2="501.5" y2="3239.9"/>
<line x1="617.0" y1="3222.5" x2="617.0" y2="3257.9"/>
<line x1="732.5" y1="3222.5" x2="732.5" y2="3239.9"/>
<line x1="848.0" y1="3222.5" x2="848.0" y2="3257.9"/>
<line x1="963.5" y1="3222.5" x2="963.5" y2="3239.9"/>
<line x1="1079.0" y1="3222.5" x2="1079.0" y2="3257.9"/>
<line x1="1194.5" y1="3222.5" x2="1194.5" y2="3239.9"/>
<line x1="1310.0" y1="3222.5" x2="1310.0" y2="3257.9"/>
<line x1="1425.5" y1="3222.5" x2="1425.5" y2="3239.9"/>
<line x1="1541.0" y1="3222.5" x2="1541.0" y2="3257.9"/>
<line x1="1655.6" y1="3222.5" x2="1655.6" y2="3239.9"/>
<line x1="386.0" y1="3963.6" x2="386.0" y2="3997.2"/>
<line x1="501.5" y1="3963.6" x2="501.5" y2="3979.4"/>
<line x1="617.0" y1="3963.6" x2="617.0" y2="3997.2"/>
<line x1="732.5" y1="3963.6" x2="732.5" y2="3979.4"/>
<line x1="848.0" y1="3963.6" x2="848.0" y2="3997.2"/>
<line x1="963.5" y1="3963.6" x2="963.5" y2="3979.4"/>
<line x1="1079.0" y1="3963.6" x2="1079.0" y2="3997.2"/>
<line x1="1194.5" y1="3963.6" x2="1194.5" y2="3979.4"/>
<line x1="1310.0" y1="3963.6" x2="1310.0" y2="3997.2"/>
<line x1="1425.5" y1="3963.6" x2="1425.5" y2="3979.4"/>
<line x1="1541.0" y1="3963.6" x2="1541.0" y2="3997.2"/>
<line x1="1655.6" y1="3963.6" x2="1655.6" y2="3979.4"/>
<line x1="350.6" y1="331.0" x2="386.0" y2="331.0"/>
<line x1="368.6" y1="643.5" x2="386.0" y2="643.5"/>
<line x1="350.6" y1="956.5" x2="386.0" y2="956.5"/>
<line x1="350.6" y1="1136.0" x2="386.0" y2="1136.0"/>
<line x1="368.6" y1="1419.0" x2="386.0" y2="1419.0"/>
<line x1="350.6" y1="1702.0" x2="386.0" y2="1702.0"/>
<line x1="350.6" y1="1839.7" x2="386.0" y2="1839.7"/>
<line x1="368.6" y1="2146.3" x2="386.0" y2="2146.3"/>
<line x1="350.6" y1="2453.0" x2="386.0" y2="2453.0"/>
<line x1="350.6" y1="2624.5" x2="386.0" y2="2624.5"/>
<line x1="368.6" y1="2916.0" x2="386.0" y2="2916.0"/>
<line x1="350.6" y1="3208.0" x2="386.0" y2="3208.0"/>
<line x1="350.6" y1="3412.5" x2="386.0" y2="3412.5"/>
<line x1="368.6" y1="3687.2" x2="386.0" y2="3687.2"/>
<line x1="350.6" y1="3961.8" x2="386.0" y2="3961.8"/>
</g>
<g>
<text transform="translate(385.0,206.7) scale(1,1.025)" text-anchor="middle">400</text>
<text transform="translate(547.1,206.7) scale(1,1.025)" text-anchor="middle">360</text>
<text transform="translate(749.7,206.7) scale(1,1.025)" text-anchor="middle">320</text>
<text transform="translate(1010.2,206.7) scale(1,1.025)" text-anchor="middle">280</text>
<text transform="translate(1357.5,206.7) scale(1,1.025)" text-anchor="middle">240</text>
<text transform="translate(702.0,107.5) scale(1,1.025)">Wavelength (nm)</text>
<text transform="translate(385.5,4086.5) scale(1,1.025)" text-anchor="middle">3.6</text>
<text transform="translate(616.5,4086.5) scale(1,1.025)" text-anchor="middle">4.0</text>
<text transform="translate(847.5,4086.5) scale(1,1.025)" text-anchor="middle">4.4</text>
<text transform="translate(1078.5,4086.5) scale(1,1.025)" text-anchor="middle">4.8</text>
<text transform="translate(1309.5,4086.5) scale(1,1.025)" text-anchor="middle">5.2</text>
<text transform="translate(1540.5,4086.5) scale(1,1.025)" text-anchor="middle">5.6</text>
<text transform="translate(723.0,4181.0) scale(1,1.025)">Photon Energy (eV)</text>
<text transform="translate(325.0,355.0) scale(1,1.025)" text-anchor="end">80</text>
<text transform="translate(325.0,980.5) scale(1,1.025)" text-anchor="end">0</text>
<text transform="translate(325.0,1160.0) scale(1,1.025)" text-anchor="end">80</text>
<text transform="translate(325.0,1726.0) scale(1,1.025)" text-anchor="end">0</text>
<text transform="translate(325.0,1863.7) scale(1,1.025)" text-anchor="end">12</text>
<text transform="translate(325.0,2477.5) scale(1,1.025)" text-anchor="end">0</text>
<text transform="translate(325.0,2648.5) scale(1,1.025)" text-anchor="end">4</text>
<text transform="translate(325.0,3232.0) scale(1,1.025)" text-anchor="end">0</text>
<text transform="translate(325.0,3436.5) scale(1,1.025)" text-anchor="end">2</text>
<text transform="translate(325.0,3986.5) scale(1,1.025)" text-anchor="end">0</text>
<text transform="translate(427.0,385.0) scale(1,1.025)" style="font-size:98px;">a)</text>
<text transform="translate(437.0,1143.0) scale(1,1.025)" style="font-size:98px;">b)</text>
<text transform="translate(433.0,1883.0) scale(1,1.025)" style="font-size:98px;">c)</text>
<text transform="translate(431.0,2623.0) scale(1,1.025)" style="font-size:98px;">d)</text>
<text transform="translate(420.5,3354.0) scale(1,1.025)" style="font-size:98px;">e)</text>
<text transform="translate(165,988.4) rotate(-90) scale(1.0104,1)">Photodepletion (Arb.)</text>
<text transform="translate(176,2958.3) rotate(-90) scale(1.008,1)" style="white-space:pre">Photofragment  (Arb.)</text>
</g>
</svg></body></html>
